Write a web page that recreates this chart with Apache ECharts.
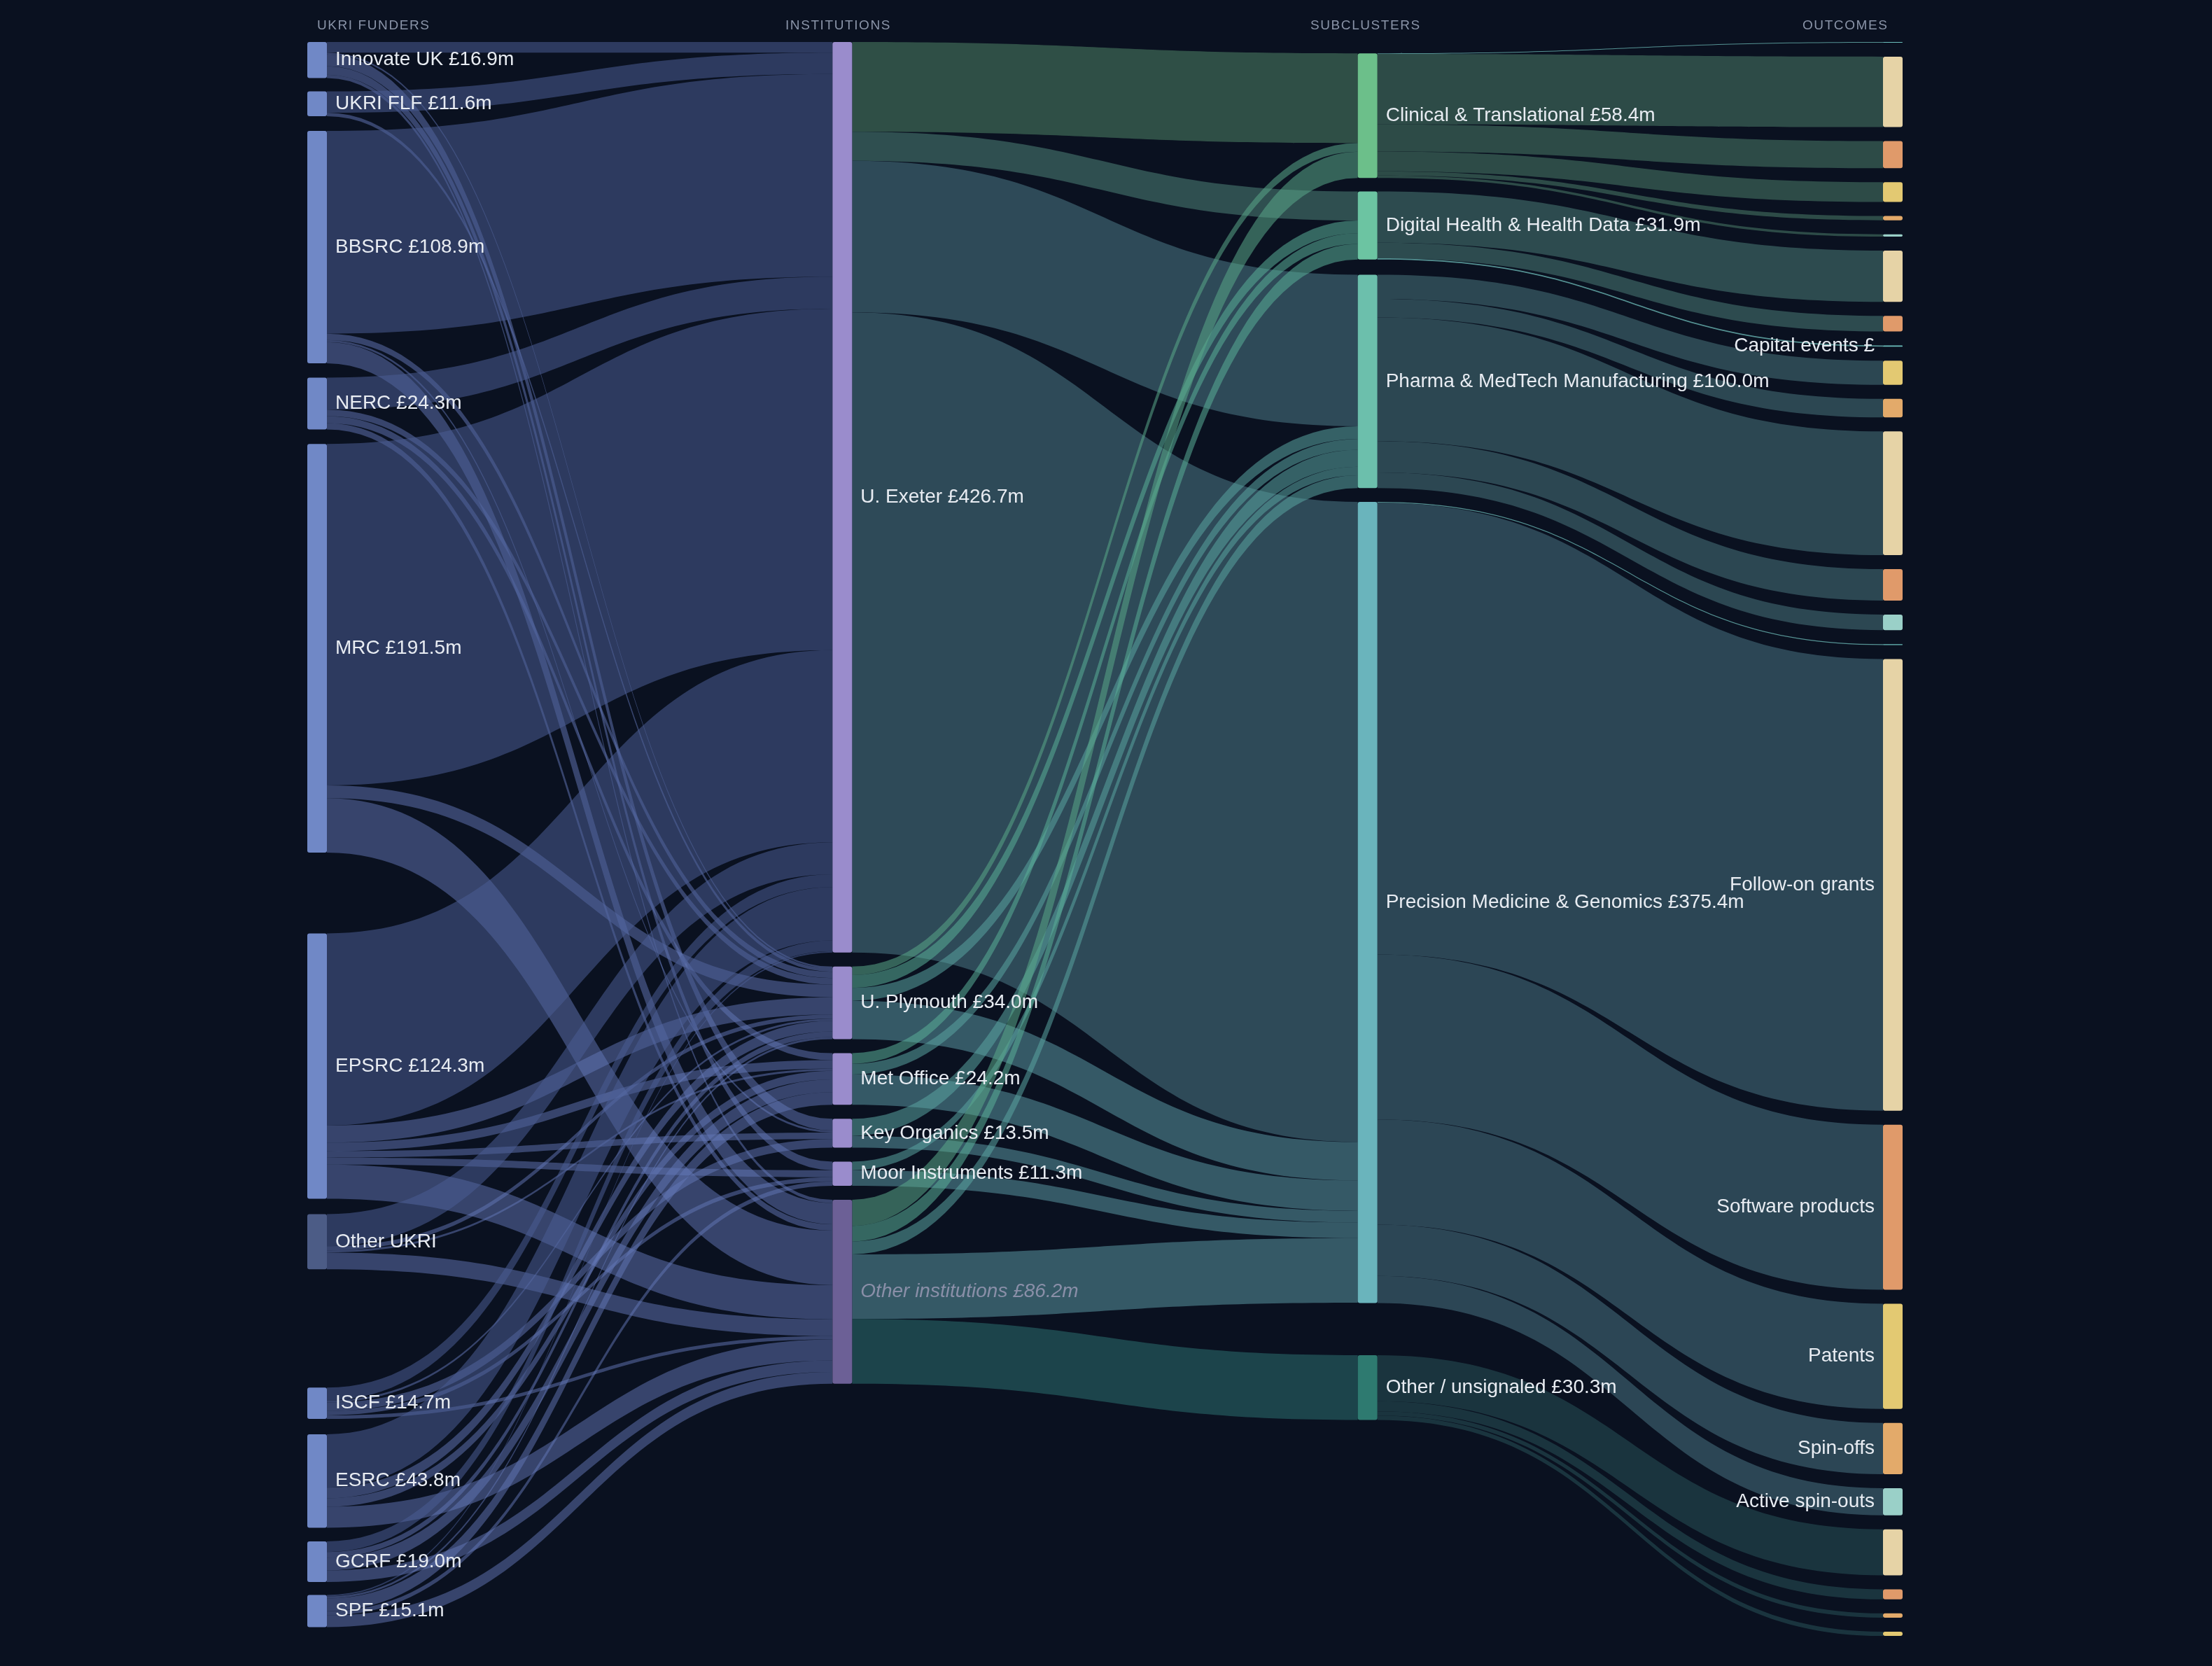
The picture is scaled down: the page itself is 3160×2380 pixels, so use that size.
<!DOCTYPE html>
<html>
<head>
<meta charset="utf-8">
<script src="https://cdn.jsdelivr.net/npm/echarts@6/dist/echarts.min.js"></script>
<style>
  html,body{margin:0;padding:0;background:#0a1120;}
  #chart{width:3160px;height:2380px;}
</style>
</head>
<body>
<div id="chart"></div>
<script>
// columns
var funders = ['Innovate UK','UKRI FLF','BBSRC','NERC','MRC','EPSRC','Other UKRI','ISCF','ESRC','GCRF','SPF'];
var funderTotals = [16.9,11.6,108.9,24.3,191.5,124.3,25.8,14.7,43.8,19.0,15.1];
var institutions = ['U. Exeter','U. Plymouth','Met Office','Key Organics','Moor Instruments','Other institutions'];
var institutionTotals = [426.7,34.0,24.2,13.5,11.3,86.2];
var subclusters = ['Clinical & Translational','Digital Health & Health Data','Pharma & MedTech Manufacturing','Precision Medicine & Genomics','Other / unsignaled'];
var subclusterTotals = [58.4,31.9,100.0,375.4,30.3];

// funder -> institution (rows: funders, cols: institutions)
var funderToInst = [
  [5.0,0.8,0,5.5,4.0,1.6],
  [10.0,1.6,0,0,0,0],
  [95.0,3.0,0,1.0,0,9.9],
  [15.0,3.0,3.3,0,0,3.0],
  [160.0,6.0,0,0,0,25.5],
  [90.0,8.0,4.0,3.0,3.3,16.0],
  [15.0,2.0,1.0,0,0,7.8],
  [6.0,1.0,0,4.0,2.0,1.7],
  [25.0,5.0,4.0,0,0,9.8],
  [5.0,2.6,6.0,0,0,5.4],
  [0.7,1.0,5.9,0,2.0,5.5]
];
// institution -> subcluster
var instToSub = [
  [42.1,13.6,71.0,300.0,0],
  [4.0,6.0,6.0,18.0,0],
  [0,5.0,5.0,14.2,0],
  [0,0,8.0,5.5,0],
  [0,0,4.0,7.3,0],
  [12.3,7.3,6.0,30.3,30.3]
];
// outcomes, top to bottom: [subcluster index, outcome type, value]
var outcomeSub   = [0,0,0,0,0,0, 1,1,1, 2,2,2,2,2, 3,3,3,3,3,3, 4,4,4,4];
var outcomeType  = ['Capital events','Follow-on grants','Software products','Patents','Spin-offs','Active spin-outs',
                    'Follow-on grants','Software products','Capital events',
                    'Patents','Spin-offs','Follow-on grants','Software products','Active spin-outs',
                    'Capital events','Follow-on grants','Software products','Patents','Spin-offs','Active spin-outs',
                    'Follow-on grants','Software products','Spin-offs','Patents'];
var outcomeValue = [0.3,33.0,12.7,9.3,2.0,1.1,
                    24.0,7.3,0.6,
                    11.3,8.7,58.0,14.7,7.3,
                    0.4,211.7,77.3,49.3,24.0,12.7,
                    21.6,4.7,2.0,2.0];

var typeColor = {
  'Follow-on grants':'#e6d3a6','Software products':'#e09a6a','Patents':'#e3c972',
  'Spin-offs':'#e3aa6a','Active spin-outs':'#9ad0c8','Capital events':'#6cc0bc'
};
var subColor = ['#6cbf8a','#6cc4a2','#6cbfac','#6ab4bc','#2e7a70'];
var exeterLink = ['#2f4f46','#2f4f50','#2e4a58','#2e4a58','#1e4048'];
var subLink  = ['#5aa888','#5aae98','#5aa4a0','#5a96a0','#1e4a50'];
var outLink  = ['#2f4f4a','#2f4f52','#2e4b55','#2e4a58','#1b3740'];

// layout helpers (relative vertical position of nodes within the layout area)
var funderY = [0,0.031,0.0558,0.2106,0.2522,0.5593,0.7354,0.8442,0.8735,0.9407,0.9743];
var subY = [0.0071,0.0938,0.146,0.2885,0.8239];

var labelFont = {color:'#e8ecf2',fontSize:28,fontFamily:'Liberation Sans'};
var nodes = [], links = [];

funders.forEach(function(f,i){
  nodes.push({name:f, depth:0, localY:funderY[i],
    itemStyle:{color: f=='Other UKRI' ? '#4c5c86' : '#7088c6'},
    label:{formatter: f=='Other UKRI' ? f : f+' £'+funderTotals[i].toFixed(1)+'m'}});
});
institutions.forEach(function(n,i){
  var other = n=='Other institutions';
  nodes.push({name:n, depth:1,
    itemStyle:{color: other ? '#6c6096' : '#9a8ccc'},
    label:{formatter:n+' £'+institutionTotals[i].toFixed(1)+'m',
      color: other ? '#8a8fa8' : '#e8ecf2', fontStyle: other ? 'italic' : 'normal'}});
});
subclusters.forEach(function(n,i){
  nodes.push({name:n, depth:2, localY:subY[i], itemStyle:{color:subColor[i]},
    label:{formatter:n+' £'+subclusterTotals[i].toFixed(1)+'m'}});
});
outcomeType.forEach(function(t,i){
  var s = outcomeSub[i];
  var show = s==3 && t!='Capital events';
  var text = t;
  if (s==1 && t=='Capital events') { show = true; text = 'Capital events £'; }
  nodes.push({name:subclusters[s]+' · '+t, depth:3, itemStyle:{color:typeColor[t]},
    label:{show:show, position:'left', formatter:text}});
});

funderToInst.forEach(function(row,i){
  row.forEach(function(v,j){
    if (v>0) links.push({source:funders[i], target:institutions[j], value:v,
      lineStyle:{color: j==0 ? '#4a5c94' : '#6478b8', opacity: j==0 ? 0.55 : 0.5}});
  });
});
instToSub.forEach(function(row,i){
  row.forEach(function(v,j){
    var ex = i==0;
    links.push && v>0 && links.push({source:institutions[i], target:subclusters[j], value:v,
      lineStyle:{color: ex ? exeterLink[j] : subLink[j], opacity: ex ? 1 : (j==4 ? 0.9 : 0.55)}});
  });
});
outcomeType.forEach(function(t,i){
  var s = outcomeSub[i];
  links.push({source:subclusters[s], target:subclusters[s]+' · '+t, value:outcomeValue[i],
    lineStyle:{color: t=='Capital events' ? '#5a9a9a' : outLink[s], opacity: 0.95}});
});

var headStyle = {fill:'#8a94a8', font:'19px Liberation Sans'};
function head(text, x){
  return {type:'text', left:x, top:27, style:Object.assign({text:text.split('').join('\u200A')}, headStyle)};
}

var chart = echarts.init(document.getElementById('chart'));
chart.setOption({
  backgroundColor:'#0a1120',
  animation:false,
  graphic:[
    head('UKRI FUNDERS',453),
    head('INSTITUTIONS',1122),
    head('SUBCLUSTERS',1872),
    head('OUTCOMES',2575)
  ],
  series:[{
    type:'sankey',
    left:439, right:442, top:60, bottom:43,
    nodeWidth:28, nodeGap:20,
    layoutIterations:0,
    draggable:false,
    emphasis:{disabled:true},
    label:Object.assign({position:'right', distance:12}, labelFont),
    itemStyle:{borderWidth:0, borderRadius:3},
    lineStyle:{curveness:0.5},
    data:nodes,
    links:links
  }]
});
</script>
</body>
</html>
